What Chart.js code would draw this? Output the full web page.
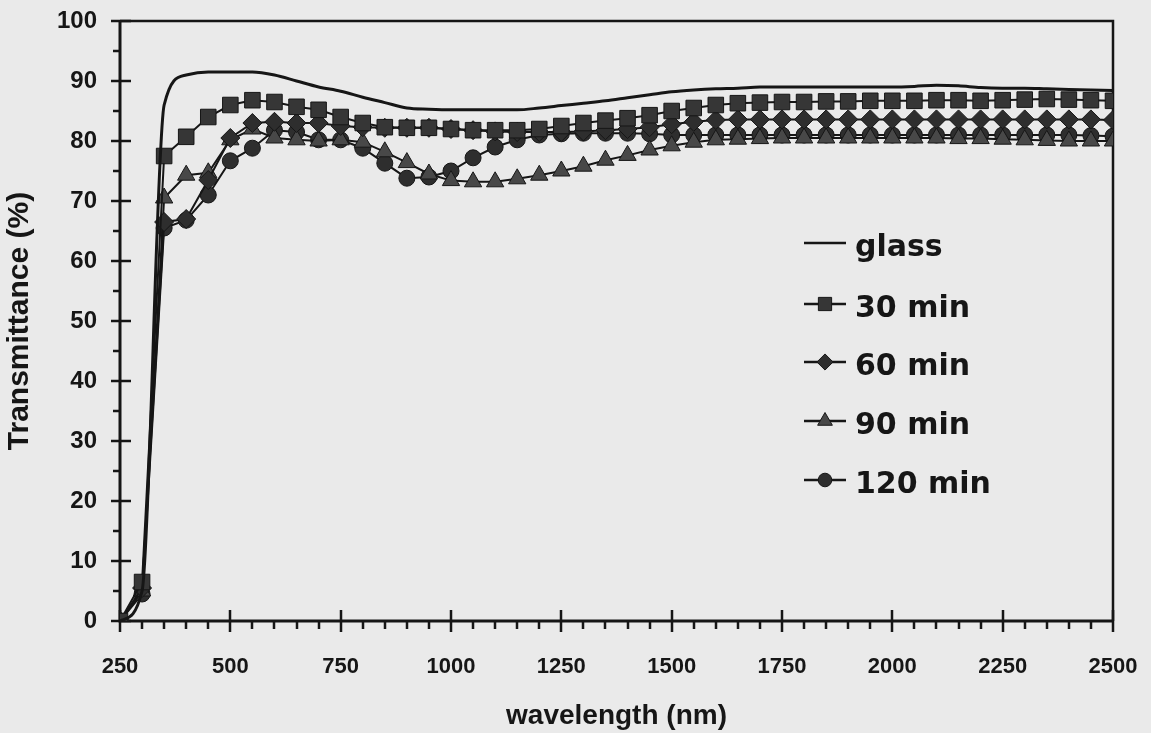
<!DOCTYPE html>
<html>
<head>
<meta charset="utf-8">
<script src="https://cdn.jsdelivr.net/npm/chart.js@4"></script>
<style>
  html, body { margin: 0; padding: 0; background: #eaeaea; }
  #wrap { width: 1151px; height: 733px; }
</style>
</head>
<body>
<div id="wrap"><canvas id="myChart" width="1151" height="733"></canvas></div>
<script>
// Data

const wavelength = [250, 300, 350, 400, 450, 500, 550, 600, 650, 700, 750, 800, 850, 900, 950,
    1000, 1050, 1100, 1150, 1200, 1250, 1300, 1350, 1400, 1450, 1500, 1550, 1600, 1650, 1700,
    1750, 1800, 1850, 1900, 1950, 2000, 2050, 2100, 2150, 2200, 2250, 2300, 2350, 2400, 2450, 2500];

const glass = [0, 5, 86, 91, 91.5, 91.5, 91.5, 91, 90, 89, 88.3, 87.3, 86.4, 85.5, 85.3,
    85.2, 85.2, 85.2, 85.2, 85.5, 85.9, 86.3, 86.7, 87.2, 87.7, 88.2, 88.5, 88.7, 88.8, 89,
    89, 89, 89, 89, 89, 89, 89.1, 89.3, 89.2, 88.9, 88.8, 88.8, 88.7, 88.6, 88.5, 88.4];

const min30 = [0, 6.5, 77.5, 80.7, 84, 86, 86.8, 86.5, 85.7, 85.2, 84, 83, 82.3, 82.2, 82.2,
    82, 81.8, 81.8, 81.8, 82, 82.5, 83, 83.4, 83.8, 84.3, 85, 85.5, 86, 86.3, 86.4,
    86.5, 86.5, 86.6, 86.6, 86.7, 86.7, 86.7, 86.8, 86.8, 86.7, 86.8, 86.9, 87, 86.9, 86.8, 86.7];

const min60 = [0, 5.5, 66.5, 67, 73.5, 80.5, 83, 83.2, 83, 83, 82.5, 82.3, 82.2, 82.2, 82.2,
    82, 81.8, 81.6, 81.5, 81.5, 81.5, 81.6, 81.8, 82, 82.3, 82.8, 83.2, 83.5, 83.6, 83.6,
    83.6, 83.6, 83.6, 83.6, 83.6, 83.6, 83.6, 83.6, 83.6, 83.6, 83.6, 83.6, 83.6, 83.6, 83.6, 83.5];

const min90 = [0, 5, 70.5, 74.3, 74.7, 80.2, 82, 80.5, 80.2, 80, 80.2, 79.8, 78.2, 76.4, 74.5,
    73.4, 73.2, 73.2, 73.7, 74.3, 75, 75.8, 76.8, 77.6, 78.5, 79.2, 79.8, 80.2, 80.3, 80.4,
    80.5, 80.5, 80.5, 80.5, 80.5, 80.5, 80.5, 80.5, 80.4, 80.4, 80.3, 80.2, 80.1, 80, 80, 80];

const min120 = [0, 4.5, 65.5, 66.8, 71, 76.7, 78.8, 81.8, 81.5, 80.2, 80.2, 78.8, 76.3, 73.8, 74,
    75, 77.2, 79, 80.2, 81, 81.2, 81.3, 81.3, 81.3, 81.2, 81, 81, 81, 81, 81,
    81, 81, 81, 81, 81, 81, 81, 81, 81, 81, 81, 81, 81, 81, 80.9, 80.8];

const xTicks = [250, 500, 750, 1000, 1250, 1500, 1750, 2000, 2250, 2500];

const toPoints = (values) => values.map((v, i) => ({ x: wavelength[i], y: v }));

const FONT = "'Liberation Sans', Arial, sans-serif";
const WIDE_FONT = "'DejaVu Sans', Verdana, sans-serif";
const INK = "#161616";

const series = [
    { label: "glass", data: glass, pointStyle: false, radius: 0, fill: "#000" },
    { label: "30 min", data: min30, pointStyle: "rect", radius: 11, fill: "#363636" },
    { label: "60 min", data: min60, pointStyle: "rectRot", radius: 9.5, fill: "#2e2e2e" },
    { label: "90 min", data: min90, pointStyle: "triangle", radius: 10, fill: "#484848" },
    { label: "120 min", data: min120, pointStyle: "circle", radius: 8, fill: "#2e2e2e" },
];

const datasets = series.map((s) => ({
    label: s.label,
    data: toPoints(s.data),
    borderColor: INK,
    borderWidth: s.radius ? 2 : 3,
    pointStyle: s.pointStyle || "circle",
    pointRadius: s.radius,
    pointHoverRadius: s.radius,
    pointBackgroundColor: s.fill,
    pointBorderColor: INK,
    pointBorderWidth: 1,
    cubicInterpolationMode: s.radius ? "default" : "monotone",
    tension: s.radius ? 0 : 0.4,
}));

// Plugins

// frame, axis lines and major/minor tick marks
const axisFrame = {
    id: "axisFrame",
    beforeDatasetsDraw(chart) {
        const { ctx, chartArea: { left, right, top, bottom }, scales: { x, y } } = chart;
        ctx.save();
        ctx.strokeStyle = INK;
        ctx.lineCap = "butt";

        ctx.lineWidth = 2.5;
        ctx.beginPath();
        ctx.moveTo(left, top);
        ctx.lineTo(right, top);
        ctx.lineTo(right, bottom);
        ctx.stroke();

        ctx.lineWidth = 3;
        ctx.beginPath();
        ctx.moveTo(left, top);
        ctx.lineTo(left, bottom);
        ctx.lineTo(right, bottom);
        ctx.stroke();

        ctx.lineWidth = 2.5;
        ctx.beginPath();
        for (let v = 0; v <= 100; v += 5) {
            const py = Math.round(y.getPixelForValue(v));
            if (v % 10 === 0) {
                ctx.moveTo(left - 9, py);
                ctx.lineTo(left + 11, py);
            } else {
                ctx.moveTo(left - 7, py);
                ctx.lineTo(left, py);
            }
        }
        for (let v = 250; v <= 2500; v += 50) {
            const px = Math.round(x.getPixelForValue(v));
            if ((v - 250) % 250 === 0) {
                ctx.moveTo(px, bottom - 11);
                ctx.lineTo(px, bottom + 11);
            } else {
                ctx.moveTo(px, bottom);
                ctx.lineTo(px, bottom + 8);
            }
        }
        ctx.stroke();
        ctx.restore();
    }
};

// legend drawn inside the plot area
const insideLegend = {
    id: "insideLegend",
    afterDraw(chart) {
        const { ctx } = chart;
        const rowsY = [243, 304, 362, 421, 480];
        ctx.save();
        chart.data.datasets.forEach((ds, i) => {
            const yy = rowsY[i];
            ctx.strokeStyle = INK;
            ctx.lineWidth = 2.5;
            ctx.beginPath();
            ctx.moveTo(804, yy);
            ctx.lineTo(846, yy);
            ctx.stroke();
            if (ds.pointRadius) {
                ctx.fillStyle = ds.pointBackgroundColor;
                ctx.strokeStyle = INK;
                ctx.lineWidth = 1;
                Chart.helpers.drawPoint(ctx, {
                    pointStyle: ds.pointStyle,
                    radius: ds.pointRadius * 0.85,
                    rotation: 0,
                    borderWidth: 1
                }, 825, yy);
            }
            ctx.fillStyle = INK;
            ctx.font = "bold 30px " + WIDE_FONT;
            ctx.textAlign = "left";
            ctx.textBaseline = "alphabetic";
            ctx.fillText(ds.label, 855, yy + 13);
        });
        ctx.restore();
    }
};

// Config

const config = {
    type: "line",
    data: { datasets },
    options: {
        responsive: false,
        devicePixelRatio: 1,
        animation: false,
        layout: { padding: { top: 21, right: 38, left: 0, bottom: 0 } },
        plugins: {
            legend: { display: false },
            tooltip: { enabled: false }
        },
        scales: {
            x: {
                type: "linear",
                min: 250,
                max: 2500,
                afterBuildTicks: (scale) => {
                    scale.ticks = xTicks.map((v) => ({ value: v }));
                },
                afterFit: (scale) => {
                    scale.height = 112;
                    scale.paddingLeft = 0;
                    scale.paddingRight = 0;
                },
                ticks: {
                    color: INK,
                    font: { family: FONT, size: 22, weight: "bold" },
                    padding: 33,
                    maxRotation: 0,
                    autoSkip: false,
                    callback: (v) => String(v)
                },
                grid: { display: false, drawTicks: false },
                border: { display: false },
                title: {
                    display: true,
                    text: "wavelength (nm)",
                    color: INK,
                    font: { family: FONT, size: 28, weight: "bold" },
                    padding: { top: 0, bottom: 0 }
                }
            },
            y: {
                min: 0,
                max: 100,
                afterFit: (scale) => {
                    scale.width = 120;
                    scale.paddingTop = 0;
                    scale.paddingBottom = 0;
                },
                ticks: {
                    stepSize: 10,
                    color: INK,
                    font: { family: FONT, size: 24, weight: "bold" },
                    padding: 23,
                    callback: (v) => String(v)
                },
                grid: { display: false, drawTicks: false },
                border: { display: false },
                title: {
                    display: true,
                    text: "Transmittance (%)",
                    color: INK,
                    font: { family: FONT, size: 30, weight: "bold" },
                    padding: { top: 2, bottom: 0 }
                }
            }
        }
    },
    plugins: [axisFrame, insideLegend]
};

// Render

const myChart = new Chart(document.getElementById("myChart"), config);
</script>
</body>
</html>
